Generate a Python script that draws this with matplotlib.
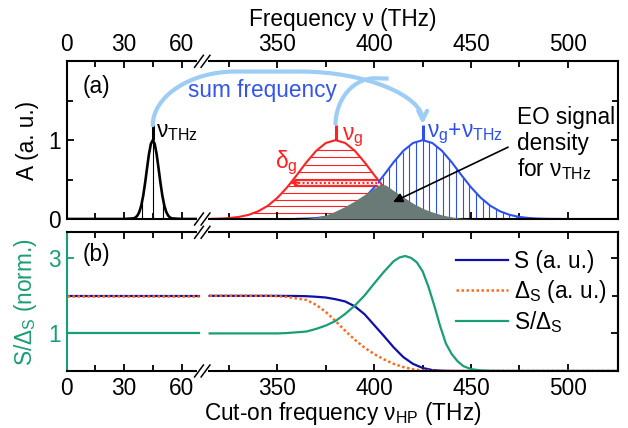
import matplotlib
matplotlib.use('Agg')
import matplotlib.pyplot as plt
import numpy as np
from matplotlib.path import Path
from matplotlib.patches import FancyArrowPatch, PathPatch

plt.rcParams['font.family'] = ['Liberation Sans', 'DejaVu Sans']
plt.rcParams['font.size'] = 16.3
plt.rcParams['mathtext.fontset'] = 'custom'
plt.rcParams['mathtext.rm'] = 'Liberation Sans'
plt.rcParams['mathtext.it'] = 'Liberation Sans:italic'
plt.rcParams['axes.linewidth'] = 1.5

# ---- panel (a): spectra ----
nu_thz = [0, 30, 35, 36, 37, 38, 39, 40, 41, 42, 43, 44, 45, 46, 47, 48, 49, 50,
          51, 52, 53, 54, 55, 60, 69]
a_thz = [0, 0, 0.008, 0.019, 0.044, 0.091, 0.172, 0.295, 0.458, 0.644, 0.823, 0.952,
         1.0, 0.952, 0.823, 0.644, 0.458, 0.295, 0.172, 0.091, 0.044, 0.019, 0.008, 0, 0]

nu_g = [315, 320, 325, 330, 335, 340, 345, 350, 355, 360, 365, 370, 375, 380, 385,
        390, 395, 400, 405, 410, 415, 420, 425, 430, 435, 440]
a_g = [0.002, 0.005, 0.012, 0.026, 0.052, 0.097, 0.167, 0.269, 0.401, 0.557, 0.720,
       0.864, 0.964, 1.0, 0.964, 0.864, 0.720, 0.557, 0.401, 0.269, 0.167, 0.097,
       0.052, 0.026, 0.012, 0.005]

nu_sum = [360, 365, 370, 375, 380, 385, 390, 395, 400, 405, 410, 415, 420, 425, 430,
          435, 440, 445, 450, 455, 460, 465, 470, 475, 480, 485, 490, 500, 526]
a_sum = [0.002, 0.005, 0.012, 0.026, 0.052, 0.097, 0.167, 0.269, 0.401, 0.557, 0.720,
         0.864, 0.964, 1.0, 0.964, 0.864, 0.720, 0.557, 0.401, 0.269, 0.167, 0.097,
         0.052, 0.026, 0.012, 0.005, 0.002, 0, 0]

nu_eo = [355, 360, 365, 370, 375, 380, 385, 390, 395, 400, 403, 406, 410, 415, 420,
         425, 430, 435, 440, 445, 450, 455]
a_eo = [0, 0.003, 0.008, 0.022, 0.05, 0.10, 0.16, 0.23, 0.31, 0.39, 0.44, 0.43, 0.36,
        0.28, 0.20, 0.135, 0.088, 0.052, 0.025, 0.01, 0.003, 0]

# ---- panel (b): cut-on scans ----
nu_lo = [0, 69]
s_lo = [2, 2]
d_lo = [2, 2]
r_lo = [1, 1]

nu_s = [315, 350, 360, 365, 370, 375, 380, 385, 390, 395, 400, 405, 410, 415, 420,
        425, 430, 435, 440, 450, 526]
s_hi = [2.0, 2.0, 1.995, 1.99, 1.975, 1.955, 1.91, 1.85, 1.72, 1.51, 1.22, 0.93,
        0.63, 0.37, 0.19, 0.08, 0.025, 0.008, 0.002, 0, 0]

nu_d = [315, 345, 350, 355, 360, 365, 370, 375, 380, 385, 390, 395, 400, 405, 410,
        415, 420, 425, 430, 440, 526]
d_hi = [2.0, 2.0, 1.99, 1.97, 1.93, 1.89, 1.76, 1.57, 1.33, 1.07, 0.83, 0.62, 0.45,
        0.31, 0.19, 0.105, 0.045, 0.015, 0.005, 0, 0]

nu_r = [315, 350, 355, 360, 365, 370, 375, 380, 385, 390, 395, 400, 405, 410, 413,
        416, 419, 422, 425, 428, 431, 434, 437, 440, 443, 446, 450, 455, 460, 470, 526]
r_hi = [1.0, 1.0, 1.01, 1.03, 1.05, 1.12, 1.21, 1.33, 1.52, 1.74, 2.01, 2.33, 2.64,
        2.92, 3.02, 3.06, 3.01, 2.89, 2.65, 2.24, 1.74, 1.20, 0.73, 0.45, 0.26, 0.13,
        0.05, 0.015, 0.003, 0, 0]

major_nu = [0, 30, 60, 350, 400, 450, 500]
minor_nu = [15, 45, 325, 375, 425, 475]

c_lb = '#9dcdf5'
c_blue = '#2c50f2'
c_red = '#ff2020'
c_gray = '#6a7a77'
c_s = '#1010a8'
c_d = '#ff6a1a'
c_r = '#1a9e77'


def to_u(nu):
    # broken axis: 0-72 THz kept, 312+ shifted left
    nu = np.asarray(nu, dtype=float)
    return np.where(nu < 200, nu, 110 + (nu - 350) * 1.01)


def setup_x(ax):
    ax.set_xlim(0, 287.8)
    ax.set_xticks(to_u(major_nu))
    ax.set_xticks(to_u(minor_nu), minor=True)
    ax.set_xticklabels([str(v) for v in major_nu])
    ax.tick_params(which='both', direction='in', top=True, bottom=True, width=1.3, pad=4)
    ax.tick_params(which='major', length=5)
    ax.tick_params(which='minor', length=4)


def brk(ax, dy):
    tr = ax.get_xaxis_transform()
    for y in (0, 1):
        ax.plot([68.3, 73.6], [y, y], color='white', lw=3, transform=tr,
                clip_on=False, zorder=10, solid_capstyle='butt')
        for uc in (69.1, 72.5):
            ax.plot([uc - 2.3, uc + 2.3], [y - dy, y + dy], color='k', lw=1.1,
                    transform=tr, clip_on=False, zorder=11)


fig = plt.figure(figsize=(6.28, 4.28), dpi=100)
ax_a = fig.add_axes([0.1059, 0.4883, 0.8787, 0.3685])
ax_b = fig.add_axes([0.1059, 0.1332, 0.8787, 0.3240])

# ---------- (a) ----------
ax = ax_a
setup_x(ax)
ax.tick_params(labeltop=True, labelbottom=False)
ax.xaxis.set_label_position('top')
ax.set_xlabel('Frequency ν (THz)', labelpad=5)
ax.set_ylim(0, 2)
ax.set_yticks([0, 1])
ax.set_yticks([0.5, 1.5], minor=True)
ax.tick_params(axis='y', which='both', direction='in', left=True, right=True, width=1.3)
ax.set_ylabel('A (a. u.)', labelpad=7)

# hatching
lv = np.array([0.07, 0.16, 0.24, 0.33, 0.42, 0.51, 0.60, 0.69, 0.78, 0.87])
ipk = int(np.argmax(a_g))
left = np.interp(lv, a_g[:ipk + 1], nu_g[:ipk + 1])
right = np.interp(lv, a_g[ipk:][::-1], nu_g[ipk:][::-1])
ax.hlines(lv, to_u(left), to_u(right), color=c_red, lw=0.8, zorder=1)

vb = 425 + 3.44 * np.arange(-6, 15)
ax.vlines(to_u(vb), 0, np.interp(vb, nu_sum, a_sum), color=c_blue, lw=0.8, zorder=1)
vk = np.array([39.5, 45, 50.5])
ax.vlines(to_u(vk), 0, np.interp(vk, nu_thz, a_thz), color='k', lw=0.8, zorder=1)

ax.plot(to_u(nu_thz), a_thz, color='k', lw=1.9, zorder=2)
ax.plot(to_u(nu_g), a_g, color=c_red, lw=1.5, zorder=2)
ax.plot(to_u(nu_sum), a_sum, color=c_blue, lw=1.5, zorder=2)
ax.fill_between(to_u(nu_eo), a_eo, color=c_gray, lw=0, zorder=3)

# peak markers
ax.plot([45, 45], [1, 1.19], color='k', lw=2.2, zorder=4, solid_capstyle='butt')
ax.plot([to_u(380)] * 2, [1, 1.19], color=c_red, lw=2.2, zorder=4, solid_capstyle='butt')
ax.plot([to_u(425)] * 2, [1, 1.19], color=c_blue, lw=2.2, zorder=4, solid_capstyle='butt')

# sum frequency arrow
ub = float(to_u(425))
verts = [(45, 1.19), (45, 1.55), (64.3, 1.87), (88, 1.87), (121.8, 1.87),
         (157.1, 1.87), (ub, 1.55), (ub, 1.20)]
codes = [Path.MOVETO, Path.CURVE4, Path.CURVE4, Path.CURVE4, Path.LINETO,
         Path.CURVE4, Path.CURVE4, Path.CURVE4]
arr = FancyArrowPatch(path=Path(verts, codes), arrowstyle='->', mutation_scale=16,
                      lw=3, color=c_lb, zorder=4)
ax.add_patch(arr)
ug = float(to_u(380))
bverts = [(ug, 1.19), (ug, 1.518), (149.5, 1.785), (160.9, 1.785), (168, 1.78)]
bcodes = [Path.MOVETO, Path.CURVE4, Path.CURVE4, Path.CURVE4, Path.LINETO]
ax.add_patch(PathPatch(Path(bverts, bcodes), fill=False, lw=3, edgecolor=c_lb,
                       zorder=4, capstyle='butt'))

ax.text(102, 1.63, 'sum frequency', color='#3355ee', ha='center', va='center')
ax.text(0.03, 0.843, '(a)', transform=ax.transAxes, ha='left', va='center')
ax.text(46.5, 1.035, 'ν$_\\mathrm{THz}$', ha='left', va='baseline')
ax.text(143.6, 1.0, 'ν$_\\mathrm{g}$', color=c_red, ha='left', va='baseline')
ax.text(188, 1.044, 'ν$_\\mathrm{g}$+ν$_\\mathrm{THz}$', color=c_blue, ha='left',
        va='baseline')
ax.text(108.8, 0.645, 'δ$_\\mathrm{g}$', color=c_red, ha='left', va='baseline')

# delta_g dotted arrow
ax.plot([118.5, 162.7], [0.46, 0.46], color=c_red, lw=4.2, zorder=5, solid_capstyle='butt')
ax.plot([118.5, 162.7], [0.46, 0.46], color='white', lw=2.6, zorder=5, solid_capstyle='butt')
ax.plot([118.5, 162.7], [0.46, 0.46], color=c_red, lw=1.4, ls=(0, (1, 1.2)), zorder=6)
ax.annotate('', xy=(116.6, 0.46), xytext=(121, 0.46), zorder=6,
            arrowprops=dict(arrowstyle='->', color=c_red, lw=1.3, mutation_scale=10,
                            shrinkA=0, shrinkB=0))

# EO signal label
ax.text(234.8, 1.21, 'EO signal', ha='left', va='baseline')
ax.text(234.8, 0.873, 'density', ha='left', va='baseline')
ax.text(234.8, 0.544, 'for ν$_\\mathrm{THz}$', ha='left', va='baseline')
ax.annotate('', xy=(170.3, 0.215), xytext=(230.3, 0.911), zorder=6,
            arrowprops=dict(arrowstyle='-|>', color='k', lw=1.2, mutation_scale=14,
                            shrinkA=0, shrinkB=0))
brk(ax, 0.038)

# ---------- (b) ----------
ax = ax_b
setup_x(ax)
ax.set_xlabel('Cut-on frequency ν$_\\mathrm{HP}$ (THz)', labelpad=0)
ax.set_ylim(0, 3.69)
ax.set_yticks([1, 3])
ax.set_yticks([2], minor=True)
ax.tick_params(axis='y', which='both', direction='in', left=True, right=False,
               colors=c_r, width=1.3)
ax.tick_params(axis='y', which='major', length=5)
ax.tick_params(axis='y', which='minor', length=4)
ax.spines['left'].set_color(c_r)
ax.set_ylabel('S/Δ$_\\mathrm{S}$ (norm.)', color=c_r, labelpad=7)

ax.plot(to_u(nu_lo), s_lo, color=c_s, lw=1.6)
ax.plot(to_u(nu_lo), d_lo, color=c_d, lw=1.8, ls=(0, (1, 1)))
ax.plot(to_u(nu_lo), r_lo, color=c_r, lw=1.6)
l1, = ax.plot(to_u(nu_s), s_hi, color=c_s, lw=1.6, label='S (a. u.)')
l2, = ax.plot(to_u(nu_d), d_hi, color=c_d, lw=1.8, ls=(0, (1, 1)),
              label='Δ$_\\mathrm{S}$ (a. u.)')
l3, = ax.plot(to_u(nu_r), r_hi, color=c_r, lw=1.6, label='S/Δ$_\\mathrm{S}$')
ax.legend(handles=[l1, l2, l3], loc='upper left', bbox_to_anchor=(0.706, 0.87),
          frameon=False, borderpad=0, borderaxespad=0, handlelength=2.3,
          handletextpad=0.25, labelspacing=0.2)
ax.text(0.03, 0.84, '(b)', transform=ax.transAxes, ha='left', va='center')

ax_r = ax.twinx()
ax_r.set_ylim(ax.get_ylim())
ax_r.set_yticks([1, 3])
ax_r.set_yticks([2], minor=True)
ax_r.tick_params(axis='y', which='both', direction='in', right=True, labelright=False,
                 width=1.3)
ax_r.tick_params(axis='y', which='major', length=5)
ax_r.tick_params(axis='y', which='minor', length=4)
for s in ('left', 'top', 'bottom'):
    ax_r.spines[s].set_visible(False)
brk(ax, 0.043)

fig.savefig('out.png', dpi=100)
